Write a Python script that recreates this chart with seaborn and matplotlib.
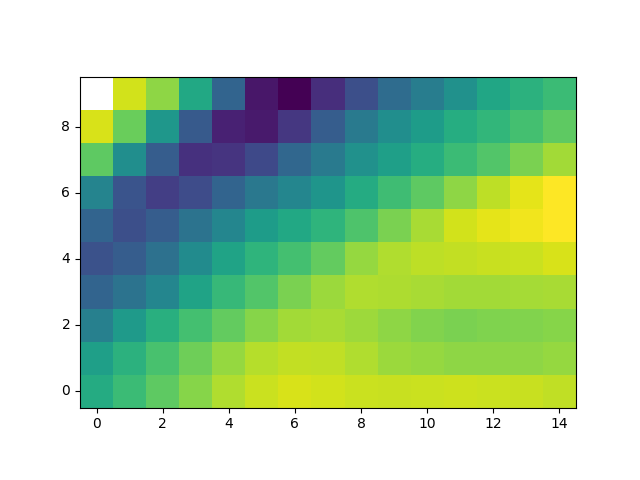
import numpy as np
import pandas as pd
import seaborn as sns
import matplotlib
matplotlib.use("Agg")
import matplotlib.pyplot as plt

# ---------------------- Data (rows bottom -> top) ----------------------
row_0 = [0.61, 0.68, 0.75, 0.82, 0.88, 0.92, 0.94, 0.93, 0.92, 0.915, 0.92, 0.925, 0.92, 0.915, 0.905]
row_1 = [0.56, 0.64, 0.71, 0.78, 0.84, 0.89, 0.91, 0.905, 0.88, 0.85, 0.84, 0.83, 0.83, 0.83, 0.84]
row_2 = [0.43, 0.54, 0.63, 0.70, 0.76, 0.82, 0.86, 0.87, 0.855, 0.83, 0.81, 0.80, 0.805, 0.81, 0.82]
row_3 = [0.32, 0.38, 0.46, 0.58, 0.67, 0.73, 0.80, 0.85, 0.88, 0.875, 0.87, 0.86, 0.86, 0.865, 0.87]
row_4 = [0.25, 0.29, 0.37, 0.48, 0.58, 0.65, 0.70, 0.76, 0.84, 0.88, 0.90, 0.91, 0.915, 0.92, 0.94]
row_5 = [0.32, 0.24, 0.29, 0.38, 0.46, 0.55, 0.60, 0.65, 0.72, 0.80, 0.87, 0.93, 0.96, 0.98, 1.00]
row_6 = [0.45, 0.26, 0.18, 0.23, 0.32, 0.40, 0.46, 0.52, 0.61, 0.69, 0.75, 0.83, 0.90, 0.96, 1.00]
row_7 = [0.75, 0.49, 0.29, 0.14, 0.15, 0.22, 0.33, 0.41, 0.50, 0.56, 0.62, 0.68, 0.73, 0.80, 0.86]
row_8 = [0.94, 0.77, 0.53, 0.28, 0.09, 0.07, 0.16, 0.29, 0.41, 0.49, 0.55, 0.62, 0.66, 0.70, 0.75]
row_9 = [np.nan, 0.93, 0.83, 0.60, 0.32, 0.06, 0.00, 0.13, 0.24, 0.35, 0.42, 0.50, 0.59, 0.64, 0.68]

x_ticks = [0, 2, 4, 6, 8, 10, 12, 14]
y_ticks = [0, 2, 4, 6, 8]

grid = pd.DataFrame([row_0, row_1, row_2, row_3, row_4,
                     row_5, row_6, row_7, row_8, row_9])

# ---------------------- Plot ----------------------
fig, ax = plt.subplots(figsize=(6.4, 4.8), dpi=100)

sns.heatmap(grid, ax=ax, cmap="viridis", vmin=0, vmax=1, cbar=False,
            linewidths=0, square=True)

# row 0 at the bottom, like imshow(origin="lower")
ax.set_ylim(0, grid.shape[0])
ax.set_xlim(0, grid.shape[1])

ax.set_xticks(np.array(x_ticks) + 0.5)
ax.set_xticklabels([str(t) for t in x_ticks], rotation=0)
ax.set_yticks(np.array(y_ticks) + 0.5)
ax.set_yticklabels([str(t) for t in y_ticks], rotation=0)
ax.set_xlabel("")
ax.set_ylabel("")

for side in ["top", "bottom", "left", "right"]:
    ax.spines[side].set_visible(True)
    ax.spines[side].set_color("black")
    ax.spines[side].set_linewidth(0.8)

ax.set_position([0.125, 0.11, 0.775, 0.77])

plt.savefig("out.png", dpi=100)
